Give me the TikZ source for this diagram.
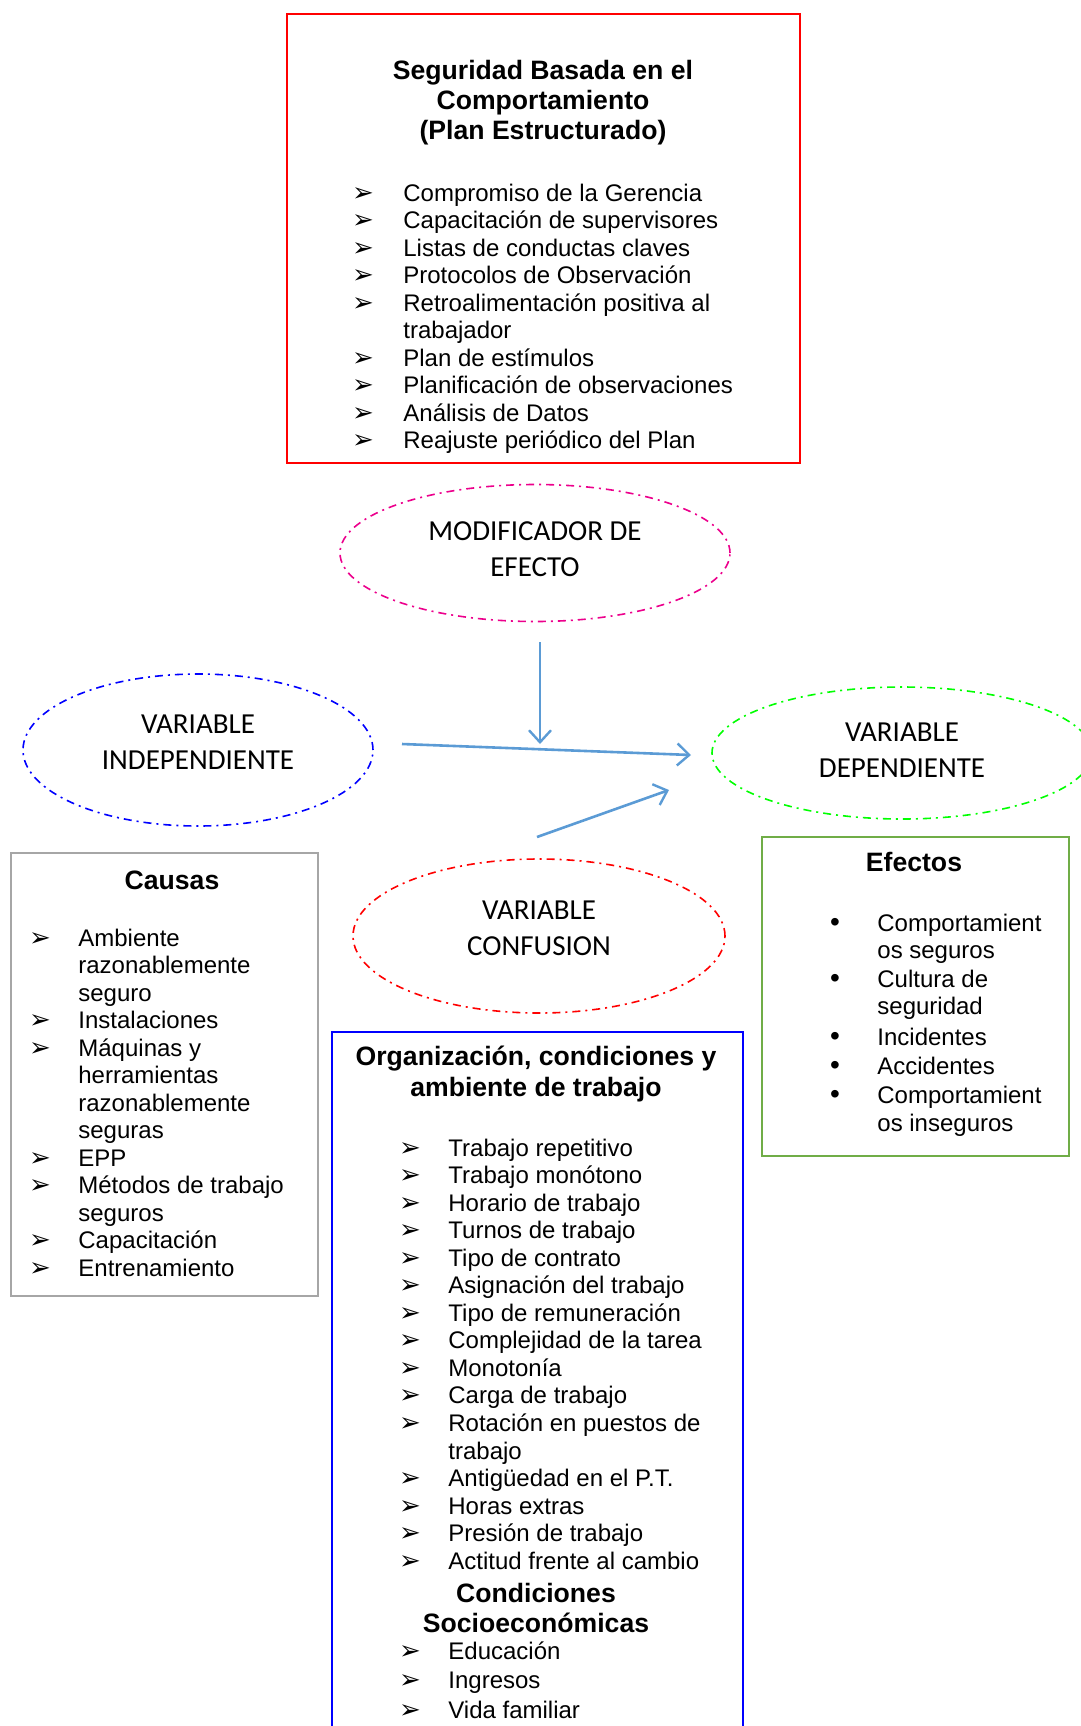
\documentclass[tikz,border=0pt]{standalone}
\usepackage{fontspec}
\setmainfont{Liberation Sans}
\newfontfamily\ellfont{Carlito}
\newfontfamily\symfont{DejaVu Sans}
\usetikzlibrary{arrows.meta,shapes.geometric}
\definecolor{FlowBlue}{RGB}{91,155,213}
\definecolor{EffGreen}{RGB}{112,173,71}
\definecolor{CauseGray}{RGB}{166,166,166}

\tikzset{
  varell/.style={draw, ellipse, line width=0.8pt, inner sep=0pt,
    dash pattern=on 4pt off 2.5pt on 1pt off 2.5pt},
  elltext/.style={align=center, inner sep=0pt, font=\ellfont\fontsize{14.5}{18}\selectfont},
  listbox/.style={draw, rectangle, anchor=north west, inner sep=0pt},
  boxtitle/.style={align=center, inner sep=0pt, font=\bfseries\fontsize{13.3}{15}\selectfont},
  itemtext/.style={anchor=base west, inner sep=0pt, font=\fontsize{12}{13}\selectfont},
  arrowbullet/.style={anchor=base, inner sep=0pt, font=\symfont\fontsize{13}{13}\selectfont},
  dotbullet/.style={anchor=base, inner sep=0pt, font=\fontsize{14}{13}\selectfont},
  flowarrow/.style={FlowBlue, line width=1.3pt,
    -{Straight Barb[length=6pt,width=11pt,line width=1.2pt]}}
}

\begin{document}
\begin{tikzpicture}[x=0.5pt, y=-0.5pt]
    %% Background
    \clip (0,0) rectangle (1081,1726);

    %% Plan box
    \node[listbox, draw=red, line width=1pt, minimum width=256.5pt, minimum height=224.5pt]
      (planbox) at (286,13) {};
    \node[boxtitle] (plantitle) at (543,103)
      {Seguridad Basada en el\\Comportamiento\\(Plan Estructurado)};
    \foreach \bul/\txt [count=\i] in {1/Compromiso de la Gerencia, 1/Capacitación de supervisores,
      1/Listas de conductas claves, 1/Protocolos de Observación, 1/Retroalimentación positiva al,
      0/trabajador, 1/Plan de estímulos, 1/Planificación de observaciones, 1/Análisis de Datos,
      1/Reajuste periódico del Plan}
    {
      \pgfmathsetmacro\yy{201+27.5*(\i-1)}
      \node[itemtext] (plan\i) at (403,\yy) {\txt};
      \ifnum\bul=1 \node[arrowbullet] (planb\i) at (363,\yy) {➢}; \fi
    }

    %% Variables
    \node[varell, draw=magenta, minimum width=195pt, minimum height=68.5pt] (modif) at (535,553) {};
    \node[elltext] (modiflbl) at (535,549) {MODIFICADOR DE\\EFECTO};
    \node[varell, draw=blue, minimum width=175pt, minimum height=76pt] (indep) at (198,750) {};
    \node[elltext] (indeplbl) at (198,742) {VARIABLE\\INDEPENDIENTE};
    \node[varell, draw=green, minimum width=190pt, minimum height=66pt] (dep) at (902,753) {};
    \node[elltext] (deplbl) at (902,750) {VARIABLE\\DEPENDIENTE};
    \node[varell, draw=red, minimum width=186pt, minimum height=77pt] (conf) at (539,936) {};
    \node[elltext] (conflbl) at (539,928) {VARIABLE\\CONFUSION};

    %% Arrows
    \coordinate (modtail) at (540,642);
    \coordinate (modtip) at (540,744);
    \coordinate (indtail) at (402,744);
    \coordinate (indtip) at (691,755);
    \coordinate (conftail) at (537,837);
    \coordinate (conftip) at (669,790);
    \draw[flowarrow, line width=0.9pt] (modtail) -- (modtip);
    \draw[flowarrow] (indtail) -- (indtip);
    \draw[flowarrow] (conftail) -- (conftip);

    %% Causas
    \node[listbox, draw=CauseGray, line width=1.1pt, minimum width=153.5pt, minimum height=221.5pt]
      (causebox) at (10,852) {};
    \node[boxtitle] (causetitle) at (172,880) {Causas};
    \foreach \bul/\txt [count=\i] in {1/Ambiente, 0/razonablemente, 0/seguro, 1/Instalaciones,
      1/Máquinas y, 0/herramientas, 0/razonablemente, 0/seguras, 1/EPP, 1/Métodos de trabajo,
      0/seguros, 1/Capacitación, 1/Entrenamiento}
    {
      \pgfmathsetmacro\yy{946+27.5*(\i-1)}
      \node[itemtext] (cause\i) at (78,\yy) {\txt};
      \ifnum\bul=1 \node[arrowbullet] (causeb\i) at (40,\yy) {➢}; \fi
    }

    %% Efectos
    \node[listbox, draw=EffGreen, line width=1.1pt, minimum width=153.5pt, minimum height=159.5pt]
      (effbox) at (761,836) {};
    \node[boxtitle] (efftitle) at (914,862) {Efectos};
    \foreach \bul/\yy/\txt [count=\i] in {1/931/Comportamient, 0/958/os seguros, 1/987/Cultura de,
      0/1014/seguridad, 1/1045/Incidentes, 1/1074/Accidentes, 1/1103/Comportamient,
      0/1131/os inseguros}
    {
      \node[itemtext] (eff\i) at (877,\yy) {\txt};
      \ifnum\bul=1 \node[dotbullet] (effb\i) at (835,\yy) {•}; \fi
    }

    %% Organizacion
    \node[listbox, draw=blue, line width=1.1pt, minimum width=205.5pt, minimum height=380pt]
      (orgbox) at (331,1031) {};
    \node[boxtitle, font=\bfseries\fontsize{13.3}{15.5}\selectfont] (orgtitle) at (536,1074)
      {Organización, condiciones y\\ambiente de trabajo};
    \foreach \bul/\txt [count=\i] in {1/Trabajo repetitivo, 1/Trabajo monótono, 1/Horario de trabajo,
      1/Turnos de trabajo, 1/Tipo de contrato, 1/Asignación del trabajo, 1/Tipo de remuneración,
      1/Complejidad de la tarea, 1/Monotonía, 1/Carga de trabajo, 1/Rotación en puestos de,
      0/trabajo, 1/Antigüedad en el P.T., 1/Horas extras, 1/Presión de trabajo,
      1/Actitud frente al cambio}
    {
      \pgfmathsetmacro\yy{1156+27.55*(\i-1)}
      \node[itemtext] (org\i) at (448,\yy) {\txt};
      \ifnum\bul=1 \node[arrowbullet] (orgb\i) at (410,\yy) {➢}; \fi
    }
    \node[boxtitle, font=\bfseries\fontsize{13.3}{15}\selectfont] (socititle) at (536,1608)
      {Condiciones\\Socioeconómicas};
    \foreach \yy/\txt [count=\i] in {1659/Educación, 1688/Ingresos, 1718/Vida familiar}
    {
      \node[itemtext] (soci\i) at (448,\yy) {\txt};
      \node[arrowbullet] (socib\i) at (410,\yy) {➢};
    }
\end{tikzpicture}
\end{document}
